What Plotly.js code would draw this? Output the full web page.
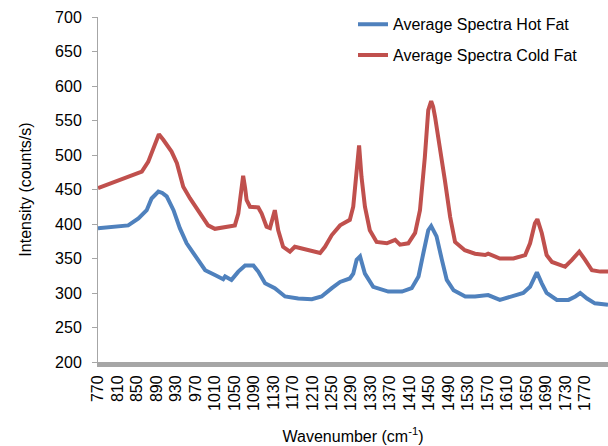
<!DOCTYPE html>
<html>
<head>
<meta charset="utf-8">
<script src="https://cdn.plot.ly/plotly-3.0.1.min.js"></script>
<style>html,body{margin:0;padding:0;background:#fff;}#chart{width:608px;height:446px;}</style>
</head>
<body>
<div id="chart"></div>
<script>
// Average Spectra Hot Fat
const hotWavenumber = [770,790,805,832,853,870,880,894,902,911,925,938,952,969,990,1010,1027,1031,1044,1058,1072,1089,1099,1113,1133,1154,1181,1209,1229,1250,1267,1287,1294,1301,1308,1318,1335,1366,1394,1414,1428,1438,1448,1454,1465,1476,1486,1500,1524,1544,1571,1595,1623,1643,1657,1671,1681,1691,1712,1736,1750,1760,1774,1790,1817];
const hotIntensity  = [394,395,396,398,408,420,437,447,445,440,420,394,372,355,333,326,320,324,319,331,340,340,331,314,307,295,292,291,295,307,316,321,328,348,353,328,309,302,302,307,324,358,391,397,382,348,319,304,295,295,297,290,295,300,309,330,314,300,290,290,295,300,292,285,283];

// Average Spectra Cold Fat
const coldWavenumber = [770,790,818,840,860,873,887,895,904,913,921,932,945,959,976,996,1010,1024,1040,1051,1058,1062,1068,1072,1075,1082,1099,1106,1116,1123,1130,1133,1136,1140,1150,1164,1174,1195,1212,1226,1236,1250,1267,1287,1294,1300,1306,1311,1318,1328,1342,1363,1380,1390,1407,1421,1431,1441,1448,1454,1458,1462,1472,1482,1493,1503,1523,1544,1565,1571,1595,1623,1647,1657,1667,1672,1681,1691,1702,1729,1743,1758,1770,1784,1801,1817];
const coldIntensity  = [452,457,464,470,476,490,514,530,522,512,505,488,454,437,420,398,393,395,396,398,415,435,470,452,435,425,424,415,396,394,412,420,408,391,367,360,367,363,360,358,367,384,398,406,425,473,514,468,425,391,374,372,377,370,372,387,420,497,565,578,570,555,512,464,410,374,362,357,355,357,350,350,355,372,401,407,387,355,345,338,348,360,348,333,331,331];

const xTickVals = [770,810,850,890,930,970,1010,1050,1090,1130,1170,1210,1250,1290,1330,1370,1410,1450,1490,1530,1570,1610,1650,1690,1730,1770];
const yTickVals = [200,250,300,350,400,450,500,550,600,650,700];

const font = "Liberation Sans, Arial, sans-serif";

const traces = [
  {x: hotWavenumber, y: hotIntensity, type: 'scatter', mode: 'lines', name: 'Average Spectra Hot Fat',
   legendgroup: 'a', line: {color: '#4F81BD', width: 4}},
  {x: coldWavenumber, y: coldIntensity, type: 'scatter', mode: 'lines', name: 'Average Spectra Cold Fat',
   legendgroup: 'b', line: {color: '#C0504D', width: 4}}
];

const layout = {
  width: 608, height: 446,
  margin: {l: 98, r: 0, t: 17, b: 84},
  paper_bgcolor: '#fff', plot_bgcolor: '#fff',
  font: {family: font, color: '#000'},
  showlegend: true,
  legend: {x: 0.5, y: 1.028, xanchor: 'left', yanchor: 'top', traceorder: 'grouped', tracegroupgap: 7,
           font: {family: font, size: 16, color: '#000'}, bgcolor: 'rgba(0,0,0,0)'},
  xaxis: {
    range: [770, 1817], tickvals: xTickVals, ticktext: xTickVals.map(String), tickangle: -90,
    tickfont: {family: font, size: 16, color: '#000'}, showgrid: false, zeroline: false,
    showline: true, linecolor: '#a6a6a6', linewidth: 5, ticks: '', ticklabelstandoff: 2,
    title: {text: 'Wavenumber (cm<sup>-1</sup>)', font: {family: font, size: 16, color: '#000'}, standoff: 22}
  },
  yaxis: {
    range: [200, 700], tickvals: yTickVals, tickfont: {family: font, size: 16, color: '#000'},
    showgrid: false, zeroline: false, showline: true, linecolor: '#a6a6a6', linewidth: 1,
    ticks: 'outside', ticklen: 5, tickcolor: '#a6a6a6', ticklabelstandoff: 7,
    title: {text: 'Intensity (counts/s)', font: {family: font, size: 16, color: '#000'}, standoff: 19}
  }
};

Plotly.newPlot('chart', traces, layout, {displayModeBar: false, staticPlot: true});
</script>
</body>
</html>
